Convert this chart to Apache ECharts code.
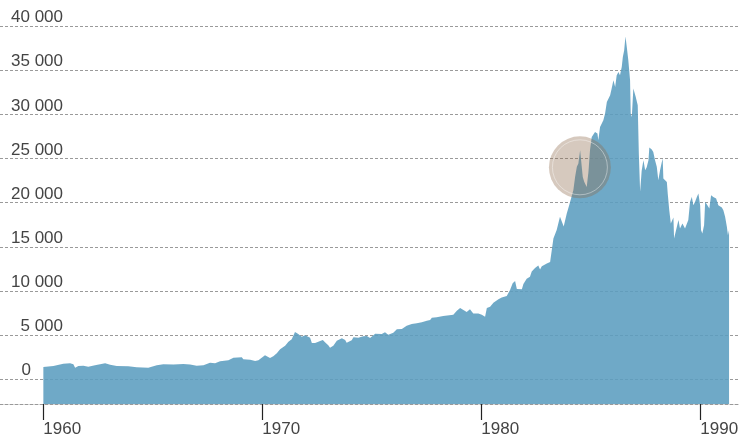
<!DOCTYPE html>
<html>
<head>
<meta charset="utf-8">
<script src="https://cdn.jsdelivr.net/npm/echarts@6.0.0/dist/echarts.min.js"></script>
<style>
  html, body { margin: 0; padding: 0; background: #fff; }
  #chart { width: 740px; height: 438px; }
</style>
</head>
<body>
<div id="chart"></div>
<script>
// index level (decimal years)
var years = [
  1960.00, 1960.46, 1960.91, 1961.22, 1961.37, 1961.45, 1961.60, 1961.83, 1962.05, 1962.36,
  1962.82, 1963.05, 1963.35, 1963.88, 1964.26, 1964.79, 1965.18, 1965.48, 1965.94, 1966.39,
  1966.70, 1967.00, 1967.31, 1967.61, 1967.84, 1968.07, 1968.45, 1968.68, 1969.06, 1969.13,
  1969.44, 1969.67, 1969.82, 1970.12, 1970.35, 1970.50, 1970.66, 1970.81, 1971.04, 1971.19,
  1971.34, 1971.49, 1971.64, 1971.80, 1971.87, 1971.95, 1972.18, 1972.26, 1972.41, 1972.64,
  1972.76, 1972.86, 1973.01, 1973.09, 1973.24, 1973.40, 1973.63, 1973.78, 1973.85, 1974.08,
  1974.16, 1974.38, 1974.61, 1974.77, 1974.92, 1975.15, 1975.45, 1975.60, 1975.75, 1975.98,
  1976.14, 1976.37, 1976.59, 1976.82, 1977.05, 1977.28, 1977.51, 1977.66, 1977.74, 1977.96,
  1978.26, 1978.34, 1978.72, 1978.88, 1979.03, 1979.18, 1979.33, 1979.48, 1979.56, 1979.63,
  1979.86, 1980.02, 1980.17, 1980.25, 1980.40, 1980.55, 1980.78, 1980.93, 1981.16, 1981.31,
  1981.43, 1981.54, 1981.62, 1981.69, 1981.85, 1981.92, 1982.07, 1982.22, 1982.30, 1982.45,
  1982.60, 1982.68, 1982.76, 1982.99, 1983.14, 1983.21, 1983.29, 1983.44, 1983.59, 1983.76,
  1983.90, 1984.02, 1984.20, 1984.28, 1984.36, 1984.43, 1984.51, 1984.58, 1984.63, 1984.70,
  1984.81, 1984.89, 1984.96, 1985.04, 1985.11, 1985.19, 1985.30, 1985.34, 1985.42, 1985.57,
  1985.65, 1985.73, 1985.80, 1985.88, 1985.95, 1986.03, 1986.11, 1986.18, 1986.26, 1986.33,
  1986.41, 1986.46, 1986.52, 1986.58, 1986.64, 1986.71, 1986.79, 1986.82, 1986.87, 1986.94,
  1987.05, 1987.14, 1987.19, 1987.25, 1987.32, 1987.40, 1987.48, 1987.55, 1987.63, 1987.67,
  1987.78, 1987.85, 1987.93, 1988.01, 1988.08, 1988.16, 1988.24, 1988.28, 1988.31, 1988.39,
  1988.47, 1988.51, 1988.58, 1988.65, 1988.72, 1988.77, 1988.80, 1988.89, 1989.00, 1989.07,
  1989.18, 1989.30, 1989.38, 1989.45, 1989.53, 1989.61, 1989.68, 1989.76, 1989.84, 1989.91,
  1989.99, 1990.03, 1990.09, 1990.17, 1990.22, 1990.32, 1990.41, 1990.49, 1990.59, 1990.72,
  1990.82, 1990.90, 1990.98, 1991.05, 1991.13, 1991.21, 1991.26, 1991.31
];
var values = [
  1390, 1500, 1760, 1810, 1700, 1310, 1500, 1540, 1430, 1580,
  1810, 1650, 1500, 1470, 1360, 1310, 1580, 1700, 1660, 1730,
  1660, 1540, 1580, 1880, 1810, 2030, 2150, 2440, 2490, 2260,
  2220, 2070, 2150, 2710, 2410, 2600, 2940, 3390, 3800, 4250,
  4520, 5350, 5120, 4820, 4780, 4980, 4700, 4110, 4110, 4330,
  4450, 4180, 3850, 3580, 3800, 4370, 4640, 4450, 4140, 4410,
  4750, 4710, 4860, 4900, 4670, 5160, 5120, 5320, 5050, 5280,
  5650, 5690, 6060, 6250, 6330, 6450, 6630, 6700, 6970, 7010,
  7160, 7310, 7310, 7760, 8060, 7840, 7610, 7920, 7990, 7460,
  7460, 7310, 7080, 8060, 8210, 8660, 9050, 9270, 9420, 10100,
  10860, 11120, 10210, 10400, 10180, 10780, 11380, 11600, 12210, 12590,
  12890, 12440, 12810, 13120, 13270, 13490, 15950, 16890, 18390, 17300,
  18770, 19800, 21410, 22910, 24050, 24430, 25930, 25850, 22910, 22350,
  21780, 23480, 25930, 27440, 27630, 28000, 27820, 27060, 28570, 29330,
  30080, 31400, 31590, 32150, 32910, 33850, 33090, 34420, 34790, 34420,
  35360, 36490, 37240, 38800, 37620, 36110, 33850, 30080, 29700, 32910,
  31960, 31020, 25560, 21220, 23600, 24800, 23670, 24000, 24800, 26240,
  26010, 25740, 24800, 24050, 22540, 23670, 24610, 24990, 22730, 22910,
  22350, 21040, 19150, 17640, 18020, 18320, 15950, 15950, 18020, 17080,
  17640, 17080, 17000, 18020, 20090, 20650, 19710, 20090, 20650, 21040,
  19710, 16890, 16510, 17450, 20090, 19710, 19340, 20840, 20650, 20470,
  19710, 19900, 19450, 19150, 18390, 17260, 16320, 16890
];
var yTicks = [0, 5000, 10000, 15000, 20000, 25000, 30000, 35000, 40000];
var xTicks = [1960, 1970, 1980, 1990];
// the highlighted spot (year, level)
var highlight = [1984.5, 24000];

var chart = echarts.init(document.getElementById('chart'), null, { renderer: 'canvas' });

var seriesData = years.map(function (y, i) { return [y, values[i]]; });

function fmtNum(v) {
  if (v === 0) return '{z|0}';
  return String(v).replace(/\B(?=(\d{3})+$)/, ' ');
}

chart.setOption({
  animation: false,
  textStyle: { fontFamily: 'Liberation Sans, Arial, sans-serif' },
  grid: {
    left: 0, right: 0, top: 26, bottom: 34,
    containLabel: false,
    outerBoundsMode: 'none'
  },
  xAxis: {
    type: 'value',
    min: 1958.02,
    max: 1991.81,
    axisLine: {
      show: true,
      onZero: false,
      lineStyle: { color: '#999', type: [3, 2], width: 1 }
    },
    axisTick: {
      show: true,
      customValues: xTicks,
      length: 16,
      lineStyle: { color: '#222', width: 1.2 }
    },
    axisLabel: {
      customValues: xTicks,
      align: 'left',
      margin: 17,
      fontSize: 17,
      color: '#444',
      formatter: function (v) { return String(v); }
    },
    splitLine: { show: false }
  },
  yAxis: {
    type: 'value',
    min: -2800,
    max: 40000,
    axisLine: { show: false },
    axisTick: { show: false, customValues: yTicks },
    axisLabel: {
      customValues: yTicks,
      inside: true,
      align: 'right',
      verticalAlign: 'bottom',
      margin: 63,
      fontSize: 17,
      color: '#444',
      formatter: fmtNum,
      rich: {
        z: { fontSize: 17, color: '#444', padding: [0, 32, 0, 0] }
      }
    },
    splitLine: {
      show: true,
      lineStyle: { color: '#9a9a9a', type: [3, 2], width: 1 }
    }
  },
  series: [
    {
      type: 'line',
      data: seriesData,
      showSymbol: false,
      symbol: 'none',
      sampling: null,
      lineStyle: { width: 0 },
      areaStyle: { color: '#5b9dbf', opacity: 0.88, origin: 'start' },
      z: 2
    },
    {
      type: 'scatter',
      data: [highlight],
      symbolSize: 62,
      silent: true,
      itemStyle: { color: 'rgba(140,105,75,0.45)' },
      z: 5
    },
    {
      type: 'scatter',
      data: [highlight],
      symbolSize: 55,
      silent: true,
      itemStyle: {
        color: 'rgba(0,0,0,0)',
        borderColor: 'rgba(255,255,255,0.5)',
        borderWidth: 1
      },
      z: 6
    }
  ]
});
</script>
</body>
</html>
